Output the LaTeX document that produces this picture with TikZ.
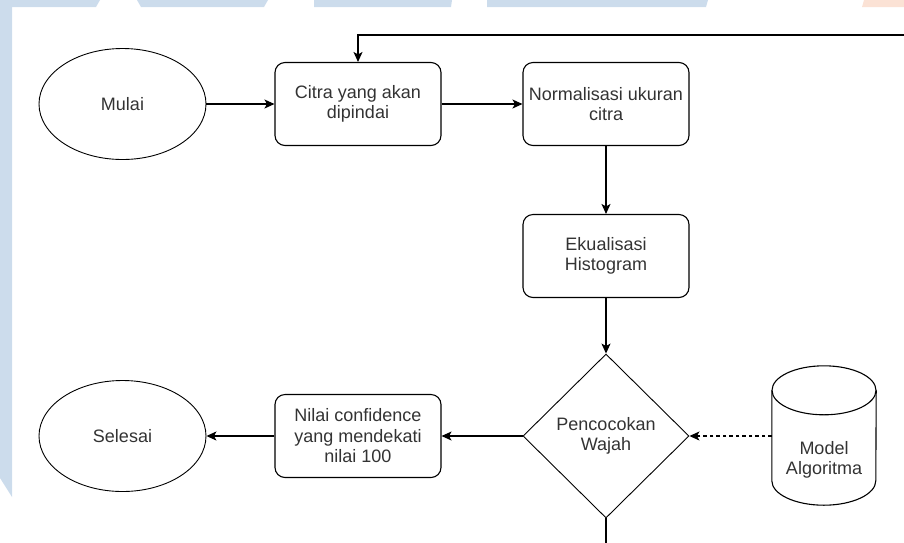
\documentclass[tikz,border=0pt]{standalone}
\usepackage{fontspec}
\setmainfont{Liberation Sans}
\usepackage{tikz}
\usepackage{xcolor}
\usetikzlibrary{arrows.meta,calc,shapes.geometric}
\definecolor{wmblue}{HTML}{CCDCEC}
\definecolor{wmorange}{HTML}{FBE2D5}
\definecolor{inkgray}{HTML}{333333}

\begin{document}
\begin{tikzpicture}[
      x=1pt, y=-1pt,
      lbl/.style={font=\fontsize{18}{20.5}\selectfont, text=inkgray, align=center},
      term/.style={lbl, draw, ellipse, inner sep=0pt, minimum width=167pt, minimum height=111pt, line width=0.9pt},
      proc/.style={lbl, draw, rounded corners=10pt, inner sep=0pt, minimum width=166pt, minimum height=83pt, line width=1.1pt},
      decide/.style={lbl, draw, diamond, inner sep=0pt, minimum width=166pt, minimum height=164pt, line width=0.9pt},
      store/.style={lbl, inner sep=0pt, minimum width=104pt, minimum height=90pt},
      cyl/.style={line width=1.1pt},
      arr/.style={-{Stealth[length=10pt, width=9pt, inset=2.5pt]}, line width=1.1pt},
      darr/.style={arr, dash pattern=on 3.5pt off 3pt}
  ]
    \useasboundingbox (0,0) rectangle (904,542);
    \fill[wmblue] (0,0) -- (100,0) -- (96,7) -- (0,7) -- cycle;
    \fill[wmblue] (137,0) -- (268,0) -- (264,7) -- (141,7) -- cycle;
    \fill[wmblue] (314,0) -- (452,0) -- (451,7) -- (314,7) -- cycle;
    \fill[wmblue] (487,0) -- (708,0) -- (706,7) -- (487,7) -- cycle;
    \fill[wmorange] (864,0) -- (904,0) -- (904,7) -- (862,7) -- cycle;
    \fill[wmblue] (0,0) -- (12,0) -- (12,497) -- (0,478) -- cycle;

    \node[term] (start) at (122.5,104) {Mulai};
    \node[proc] (citra) at (358,104) {Citra yang akan\\dipindai};
    \node[proc] (norm) at (606,104) {Normalisasi ukuran\\citra};
    \node[proc] (ekual) at (606,256) {Ekualisasi\\Histogram};
    \node[decide] (cocok) at (606,436) {Pencocokan\\Wajah};
    \node[proc] (nilai) at (358,436) {Nilai confidence\\yang mendekati\\nilai 100};
    \node[term] (selesai) at (122.5,436) {Selesai};
    \node[store] (model) at (824,460) {Model\\Algoritma};
    \draw[cyl] ($(model.north)+(0,-24.5)$) ellipse [x radius=52pt, y radius=24.5pt];
    \draw[cyl] ($(model.north west)+(0,-24.5)$) -- ($(model.south west)+(0,-24.5)$)
      arc[start angle=180, end angle=360, x radius=52pt, y radius=24.5pt] -- ($(model.north east)+(0,-24.5)$);
    \coordinate (loopin) at (910,35);
    \coordinate (loopout) at (606,548);

    \draw[arr] (start) -- (citra);
    \draw[arr] (citra) -- (norm);
    \draw[arr] (norm) -- (ekual);
    \draw[arr] (ekual) -- (cocok);
    \draw[arr] (cocok) -- (nilai);
    \draw[arr] (nilai) -- (selesai);
    \draw[darr] (model.west |- cocok.east) -- (cocok.east);
    \draw[line width=1.1pt] (cocok.south) -- (loopout);
    \draw[arr] (loopin) -| (citra.north);
  \end{tikzpicture}
\end{document}
